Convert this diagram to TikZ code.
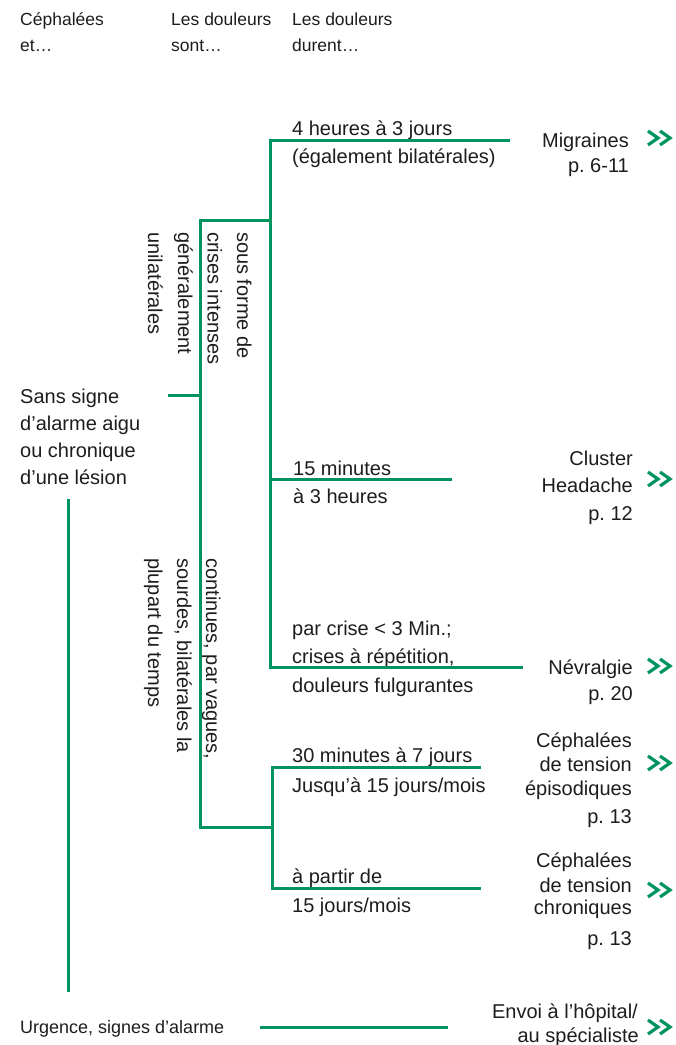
\documentclass[tikz,border=0pt]{standalone}
\usepackage{fontspec}
\setmainfont{Liberation Sans}
\definecolor{grn}{RGB}{0,148,95}
\definecolor{ink}{RGB}{30,28,28}
\begin{document}
\frenchspacing
\begin{tikzpicture}[x=1pt,y=-1pt,
  conn/.style={draw=grn,line width=3pt,line join=miter},
  txt/.style={inner sep=0pt,text=ink,font=\fontsize{20}{24}\selectfont},
  lt/.style={txt,anchor=base west},
  rt/.style={txt,anchor=base east},
  hd/.style={inner sep=0pt,text=ink,font=\fontsize{17.5}{20}\selectfont,anchor=base west},
  vt/.style={txt,rotate=-90,anchor=base west},
  chevline/.style={draw=grn,line width=3.2pt,line cap=butt,line join=miter},
  chev/.pic={\path[chevline] (-12,-7)--(-2,0)--(-12,7) (0,-7)--(10,0)--(0,7);}
]
\path[use as bounding box] (0,0) rectangle (676,1045);

% headers
\node[hd] (h1a) at (20,25) {Céphalées};
\node[hd] (h1b) at (20,51) {et…};
\node[hd] (h2a) at (171,25) {Les douleurs};
\node[hd] (h2b) at (171,51) {sont…};
\node[hd] (h3a) at (292,25) {Les douleurs};
\node[hd] (h3b) at (292,51) {durent…};

% left label
\node[lt] (s1) at (20,403) {Sans signe};
\node[lt] (s2) at (20,430) {d’alarme aigu};
\node[lt] (s3) at (20,457) {ou chronique};
\node[lt] (s4) at (20,484) {d’une lésion};

% vertical labels
\node[vt] (r1) at (237,232) {sous forme de};
\node[vt] (r2) at (207.5,232) {crises intenses};
\node[vt] (r3) at (178,232) {généralement};
\node[vt] (r4) at (148,232) {unilatérales};
\node[vt] (q1) at (206,558) {continues, par vagues,};
\node[vt] (q2) at (177,558) {sourdes, bilatérales la};
\node[vt] (q3) at (148,558) {plupart du temps};

% durations
\node[lt] (d1a) at (292,135) {4 heures à 3 jours};
\node[lt] (d1b) at (292,163) {(également bilatérales)};
\node[lt] (d2a) at (293,475) {15 minutes};
\node[lt] (d2b) at (293,503) {à 3 heures};
\node[lt] (d3a) at (292,635) {par crise < 3 Min.;};
\node[lt] (d3b) at (292,663) {crises à répétition,};
\node[lt] (d3c) at (292,692) {douleurs fulgurantes};
\node[lt] (d4a) at (292,762) {30 minutes à 7 jours};
\node[lt] (d4b) at (292,792) {Jusqu’à 15 jours/mois};
\node[lt] (d5a) at (292,883) {à partir de};
\node[lt] (d5b) at (292,912) {15 jours/mois};

% results
\node[rt] (m1) at (629,147) {Migraines};
\node[rt] (m2) at (629,172) {p. 6-11};
\node[rt] (c1) at (633,465) {Cluster};
\node[rt] (c2) at (633,492) {Headache};
\node[rt] (c3) at (633,520) {p. 12};
\node[rt] (n1) at (633,674) {Névralgie};
\node[rt] (n2) at (633,700) {p. 20};
\node[rt] (e1) at (632,747) {Céphalées};
\node[rt] (e2) at (632,771) {de tension};
\node[rt] (e3) at (632,795) {épisodiques};
\node[rt] (e4) at (632,823) {p. 13};
\node[rt] (k1) at (632,867) {Céphalées};
\node[rt] (k2) at (632,892) {de tension};
\node[rt] (k3) at (632,914) {chroniques};
\node[rt] (k4) at (632,945) {p. 13};
\node[hd,font=\fontsize{18}{21}\selectfont] (u1) at (20,1033) {Urgence, signes d’alarme};
\node[rt] (v1) at (638,1018) {Envoi à l’hôpital/};
\node[rt] (v2) at (639,1042) {au spécialiste};

% junction coordinates
\coordinate (aTop) at (270,140);
\coordinate (aEnd) at (510,140);
\coordinate (aBot) at (270,667);
\coordinate (nEnd) at (523,667);
\coordinate (aMid) at (270,220);
\coordinate (bTop) at (200,220);
\coordinate (bBot) at (200,827);
\coordinate (bStub) at (200,395);
\coordinate (sStub) at (168,395);
\coordinate (cJ) at (270,479);
\coordinate (cEnd) at (452,479);
\coordinate (tJ) at (272,827);
\coordinate (tTop) at (272,767);
\coordinate (tBot) at (272,888);
\coordinate (eEnd) at (481,767);
\coordinate (kEnd) at (481,888);
\coordinate (lTop) at (68,499);
\coordinate (lBot) at (68,992);
\coordinate (uStart) at (260,1027);
\coordinate (uEnd) at (448,1027);

% connectors
\draw[conn] (aEnd) -- (aTop) -- (aBot) -- (nEnd);
\draw[conn] (aMid) -- (bTop) -- (bBot) -- (tJ);
\draw[conn] (sStub) -- (bStub);
\draw[conn] (cJ) -- (cEnd);
\draw[conn] (eEnd) -- (tTop) -- (tBot) -- (kEnd);
\draw[conn] (lTop) -- (lBot);
\draw[conn] (uStart) -- (uEnd);

% arrow glyphs
\pic (ar1) at (660,138) {chev};
\pic (ar2) at (660,479) {chev};
\pic (ar3) at (660,666) {chev};
\pic (ar4) at (660,763) {chev};
\pic (ar5) at (660,890) {chev};
\pic (ar6) at (660,1027) {chev};
\end{tikzpicture}
\end{document}
